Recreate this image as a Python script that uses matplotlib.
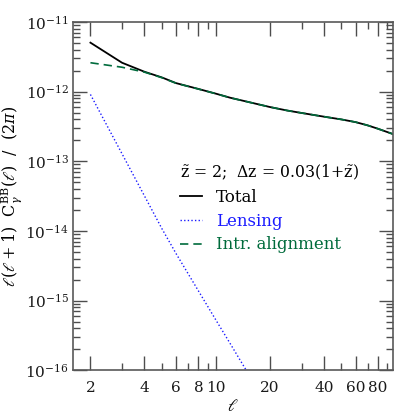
import numpy as np
import matplotlib
matplotlib.use("Agg")
import matplotlib.pyplot as plt
from matplotlib.ticker import FixedLocator, FixedFormatter, NullFormatter

plt.rcParams['font.family'] = 'DejaVu Serif'
plt.rcParams['mathtext.fontset'] = 'dejavuserif'

# multipoles
ell = [2, 3, 4, 5, 6, 8, 10, 12, 15, 20, 25, 30, 40, 50, 60, 70, 80, 100]
# intrinsic alignment B-mode power
cl_ia = [2.60e-12, 2.24e-12, 1.905e-12, 1.585e-12, 1.318e-12, 1.089e-12, 9.33e-13,
         8.17e-13, 7.14e-13, 6.01e-13, 5.35e-13, 4.94e-13, 4.37e-13, 3.99e-13,
         3.65e-13, 3.28e-13, 2.93e-13, 2.39e-13]
# total
cl_tot = [5.05e-12, 2.60e-12, 1.93e-12, 1.60e-12, 1.325e-12, 1.092e-12, 9.35e-13,
          8.18e-13, 7.15e-13, 6.01e-13, 5.35e-13, 4.94e-13, 4.37e-13, 3.99e-13,
          3.65e-13, 3.28e-13, 2.93e-13, 2.39e-13]
# lensing
ell_lens = [2, 3, 4, 5, 6, 8, 10, 12, 15, 16]
cl_lens = [9.1e-13, 1.28e-13, 3.18e-14, 1.08e-14, 4.72e-15, 1.37e-15, 5.25e-16,
           2.42e-16, 9.3e-17, 7.1e-17]

xticks_major = [2, 4, 6, 8, 10, 20, 40, 60, 80]
xticks_minor = [3, 5, 7, 9, 30, 50, 70, 90]
yticks_major = [1e-16, 1e-15, 1e-14, 1e-13, 1e-12, 1e-11]
yticks_labels = [r'$10^{-16}$', r'$10^{-15}$', r'$10^{-14}$', r'$10^{-13}$',
                 r'$10^{-12}$', r'$10^{-11}$']
yticks_minor = [m * 10.0**e for e in range(-16, -11) for m in range(2, 10)]

col_lens = '#1a1aff'
col_ia = '#006b3c'

fig = plt.figure(figsize=(4.15, 4.15), dpi=100)
ax = fig.add_axes([0.176, 0.108, 0.771, 0.839])

ax.plot(ell, cl_tot, color='k', lw=1.3, label='Total')
ax.plot(ell_lens, cl_lens, color=col_lens, lw=1.0, ls=(0, (1, 1.6)), label='Lensing')
ax.plot(ell, cl_ia, color=col_ia, lw=1.2, ls=(0, (5, 3)), label='Intr. alignment')

ax.set_xscale('log')
ax.set_yscale('log')
ax.set_xlim(1.6, 97)
ax.set_ylim(1e-16, 1e-11)

ax.xaxis.set_major_locator(FixedLocator(xticks_major))
ax.xaxis.set_major_formatter(FixedFormatter([str(t) for t in xticks_major]))
ax.xaxis.set_minor_locator(FixedLocator(xticks_minor))
ax.xaxis.set_minor_formatter(NullFormatter())
ax.yaxis.set_major_locator(FixedLocator(yticks_major))
ax.yaxis.set_major_formatter(FixedFormatter(yticks_labels))
ax.yaxis.set_minor_locator(FixedLocator(yticks_minor))
ax.yaxis.set_minor_formatter(NullFormatter())

ax.tick_params(which='both', direction='in', top=True, right=True, colors='0.3',
               labelcolor='0.1', labelsize=11)
ax.tick_params(which='major', length=10, width=1.0)
ax.tick_params(which='minor', length=5, width=1.0)
ax.tick_params(axis='x', pad=8)
ax.tick_params(axis='y', pad=3)
for s in ax.spines.values():
    s.set_color('0.35')
    s.set_linewidth(1.2)

ax.set_xlabel(r'$\ell$', fontsize=12, labelpad=2)
ax.set_ylabel(r'$\ell(\ell+1)\ \ {\rm C}_\gamma^{\rm BB}(\ell)\ \ /\ \ (2\pi)$',
              fontsize=11.5, va='center')
ax.yaxis.set_label_coords(-0.19, 0.5)

leg = ax.legend(loc='upper left', bbox_to_anchor=(0.286, 0.638), frameon=False,
                title=r'$\tilde{\rm z}$ = 2;  $\Delta$z = 0.03(1+$\tilde{\rm z}$)',
                alignment='left', fontsize=12, title_fontsize=11.3,
                handlelength=1.35, handletextpad=0.85, labelspacing=0.4,
                labelcolor='linecolor')

fig.savefig('out.png', dpi=100)
